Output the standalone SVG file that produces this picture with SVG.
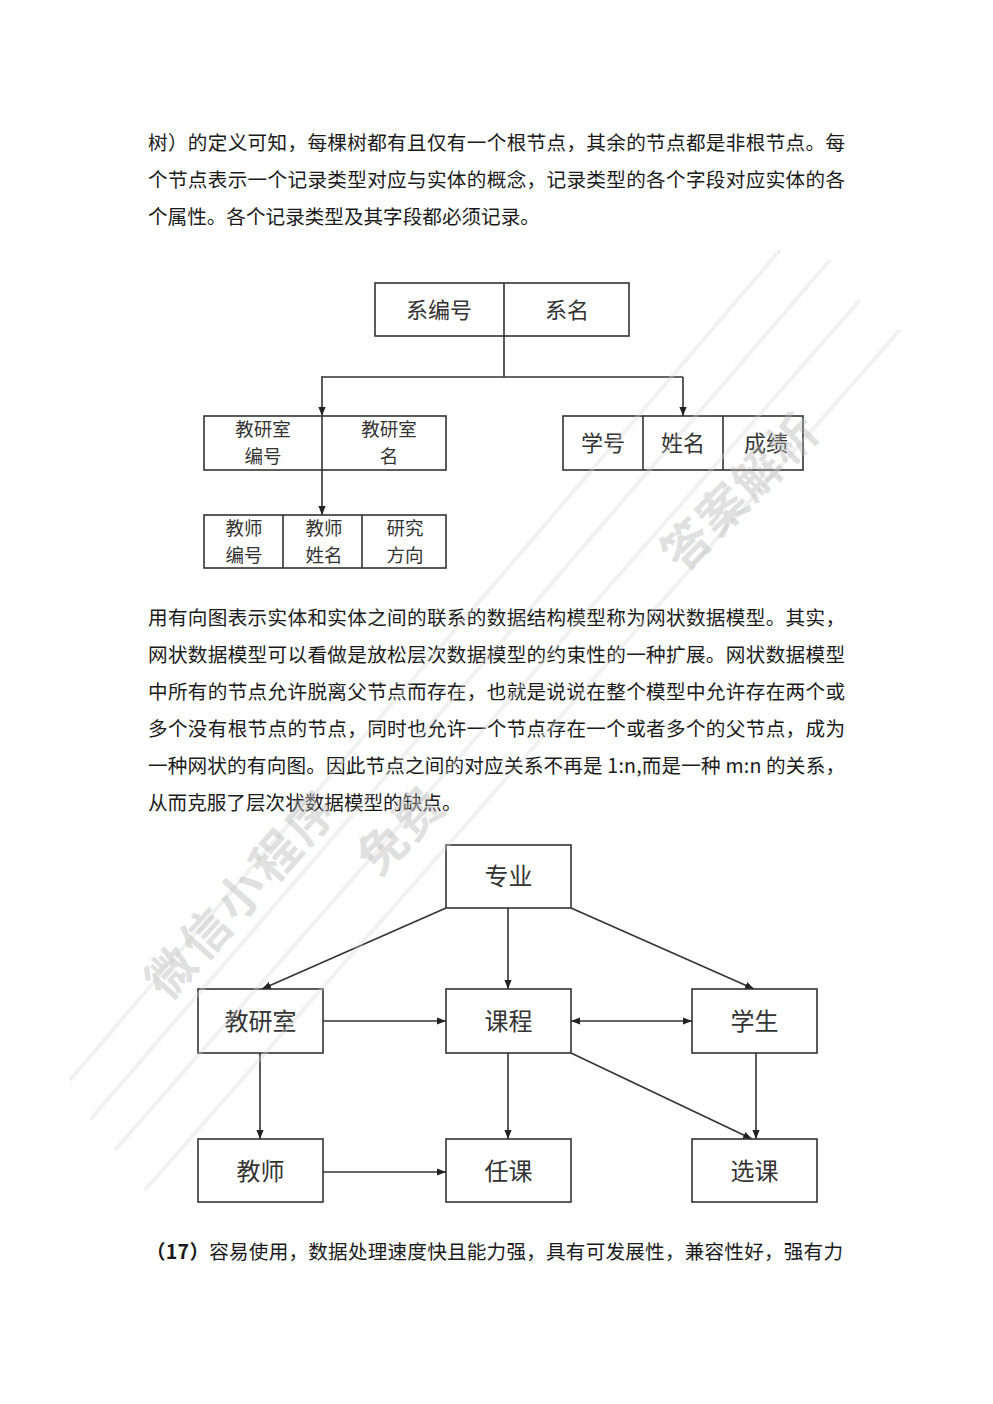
<svg xmlns="http://www.w3.org/2000/svg" width="993" height="1404" viewBox="0 0 993 1404">
  <defs>
    <marker id="ah" viewBox="0 0 10 10" refX="10" refY="5" markerWidth="9" markerHeight="9" orient="auto-start-reverse" markerUnits="userSpaceOnUse">
      <path d="M0,1 L10,5 L0,9 z" fill="#222"/>
    </marker>
    <style>
      .body { font-family: "Noto Sans CJK SC", "Liberation Serif", serif; font-size: 19.6px; fill: #1a1a1a; }
      .box { fill: #fff; stroke: #333; stroke-width: 1.6; }
      .div { stroke: #333; stroke-width: 1.6; }
      .lbl { font-family: "Noto Sans CJK SC", "Liberation Sans", sans-serif; font-size: 22px; fill: #333; text-anchor: middle; }
      .lbls { font-family: "Noto Sans CJK SC", "Liberation Sans", sans-serif; font-size: 18.5px; fill: #333; text-anchor: middle; }
      .lbl2 { font-family: "Noto Sans CJK SC", "Liberation Sans", sans-serif; font-size: 24px; fill: #333; text-anchor: middle; }
      .con { stroke: #333; stroke-width: 1.6; fill: none; }
      .wm { font-family: "Noto Sans CJK SC", "Liberation Sans", sans-serif; font-size: 48px; font-weight: bold; fill: #b4b4b4; opacity: 0.4; }
      .stripe { stroke: #d8d8d8; stroke-width: 4; fill: none; opacity: 0.35; }
    </style>
  </defs>
  <rect x="0" y="0" width="993" height="1404" fill="#fff"/>

  <g id="paragraph1">
    <text class="body" x="148" y="150" textLength="697" lengthAdjust="spacing">树）的定义可知，每棵树都有且仅有一个根节点，其余的节点都是非根节点。每</text>
    <text class="body" x="148" y="187" textLength="697" lengthAdjust="spacing">个节点表示一个记录类型对应与实体的概念，记录类型的各个字段对应实体的各</text>
    <text class="body" x="148" y="224">个属性。各个记录类型及其字段都必须记录。</text>
  </g>

  <g id="tree-connectors">
    <line class="con" x1="504" y1="336" x2="504" y2="377"/>
    <line class="con" x1="321" y1="377" x2="683" y2="377"/>
    <line class="con" x1="322" y1="377" x2="322" y2="416" marker-end="url(#ah)"/>
    <line class="con" x1="683" y1="377" x2="683" y2="416" marker-end="url(#ah)"/>
    <line class="con" x1="322" y1="470" x2="322" y2="515" marker-end="url(#ah)"/>
  </g>

  <g id="node-dept">
    <rect class="box" x="375" y="283" width="254" height="53"/>
    <line class="div" x1="504" y1="283" x2="504" y2="336"/>
    <text class="lbl" x="439" y="318">系编号</text>
    <text class="lbl" x="567" y="318">系名</text>
  </g>

  <g id="node-office">
    <rect class="box" x="204" y="416" width="242" height="54"/>
    <line class="div" x1="322" y1="416" x2="322" y2="470"/>
    <text class="lbls" x="263" y="436">教研室</text>
    <text class="lbls" x="263" y="463">编号</text>
    <text class="lbls" x="389" y="436">教研室</text>
    <text class="lbls" x="389" y="463">名</text>
  </g>

  <g id="node-student">
    <rect class="box" x="563" y="416" width="240" height="54"/>
    <line class="div" x1="643" y1="416" x2="643" y2="470"/>
    <line class="div" x1="723" y1="416" x2="723" y2="470"/>
    <text class="lbl" x="603" y="451">学号</text>
    <text class="lbl" x="683" y="451">姓名</text>
    <text class="lbl" x="766" y="451">成绩</text>
  </g>

  <g id="node-teacher">
    <rect class="box" x="204" y="515" width="242" height="53"/>
    <line class="div" x1="283" y1="515" x2="283" y2="568"/>
    <line class="div" x1="362" y1="515" x2="362" y2="568"/>
    <text class="lbls" x="244" y="534.5">教师</text>
    <text class="lbls" x="244" y="561.5">编号</text>
    <text class="lbls" x="324" y="534.5">教师</text>
    <text class="lbls" x="324" y="561.5">姓名</text>
    <text class="lbls" x="405" y="534.5">研究</text>
    <text class="lbls" x="405" y="561.5">方向</text>
  </g>

  <g id="paragraph2">
    <text class="body" x="148" y="625" textLength="697" lengthAdjust="spacing">用有向图表示实体和实体之间的联系的数据结构模型称为网状数据模型。其实，</text>
    <text class="body" x="148" y="662" textLength="697" lengthAdjust="spacing">网状数据模型可以看做是放松层次数据模型的约束性的一种扩展。网状数据模型</text>
    <text class="body" x="148" y="699" textLength="697" lengthAdjust="spacing">中所有的节点允许脱离父节点而存在，也就是说说在整个模型中允许存在两个或</text>
    <text class="body" x="148" y="736" textLength="697" lengthAdjust="spacing">多个没有根节点的节点，同时也允许一个节点存在一个或者多个的父节点，成为</text>
    <text class="body" x="148" y="773" textLength="697" lengthAdjust="spacing">一种网状的有向图。因此节点之间的对应关系不再是 1:n,而是一种 m:n 的关系，</text>
    <text class="body" x="148" y="810">从而克服了层次状数据模型的缺点。</text>
  </g>

  <g id="network-connectors">
    <line class="con" x1="446" y1="908" x2="262" y2="989" marker-end="url(#ah)"/>
    <line class="con" x1="508" y1="908" x2="508" y2="989" marker-end="url(#ah)"/>
    <line class="con" x1="571" y1="908" x2="754" y2="989" marker-end="url(#ah)"/>
    <line class="con" x1="323" y1="1021" x2="446" y2="1021" marker-end="url(#ah)"/>
    <line class="con" x1="571" y1="1021" x2="692" y2="1021" marker-start="url(#ah)" marker-end="url(#ah)"/>
    <line class="con" x1="260" y1="1053" x2="260" y2="1139" marker-end="url(#ah)"/>
    <line class="con" x1="508" y1="1053" x2="508" y2="1139" marker-end="url(#ah)"/>
    <line class="con" x1="571" y1="1053" x2="752" y2="1139" marker-end="url(#ah)"/>
    <line class="con" x1="756" y1="1053" x2="756" y2="1139" marker-end="url(#ah)"/>
    <line class="con" x1="323" y1="1172" x2="446" y2="1172" marker-end="url(#ah)"/>
  </g>

  <g id="node-major">
    <rect class="box" x="446" y="845" width="125" height="63"/>
    <text class="lbl2" x="508.5" y="885">专业</text>
  </g>
  <g id="node-jys">
    <rect class="box" x="198" y="989" width="125" height="64"/>
    <text class="lbl2" x="260.5" y="1030">教研室</text>
  </g>
  <g id="node-course">
    <rect class="box" x="446" y="989" width="125" height="64"/>
    <text class="lbl2" x="508.5" y="1030">课程</text>
  </g>
  <g id="node-xs">
    <rect class="box" x="692" y="989" width="125" height="64"/>
    <text class="lbl2" x="754.5" y="1030">学生</text>
  </g>
  <g id="node-js">
    <rect class="box" x="198" y="1139" width="125" height="63"/>
    <text class="lbl2" x="260.5" y="1180">教师</text>
  </g>
  <g id="node-rk">
    <rect class="box" x="446" y="1139" width="125" height="63"/>
    <text class="lbl2" x="508.5" y="1180">任课</text>
  </g>
  <g id="node-xk">
    <rect class="box" x="692" y="1139" width="125" height="63"/>
    <text class="lbl2" x="754.5" y="1180">选课</text>
  </g>

  <g id="paragraph3">
    <text class="body" x="146" y="1259" textLength="697" lengthAdjust="spacing"><tspan font-weight="bold">（17）</tspan>容易使用，数据处理速度快且能力强，具有可发展性，兼容性好，强有力</text>
  </g>

  <g id="watermark">
    <line class="stripe" x1="90" y1="1120" x2="830" y2="260"/>
    <line class="stripe" x1="115" y1="1150" x2="860" y2="300"/>
    <line class="stripe" x1="145" y1="1190" x2="900" y2="330"/>
    <line class="stripe" x1="70" y1="1080" x2="780" y2="250"/>
    <text class="wm" transform="translate(168,1002) rotate(-48)"><tspan x="0">微</tspan><tspan x="52">信</tspan><tspan x="104">小</tspan><tspan x="156">程</tspan><tspan x="208">序</tspan></text>
    <text class="wm" transform="translate(378,878) rotate(-45)"><tspan x="0">免</tspan><tspan x="50">费</tspan><tspan x="430">答</tspan><tspan x="480">案</tspan><tspan x="530">解</tspan><tspan x="580">析</tspan></text>
  </g>
</svg>
